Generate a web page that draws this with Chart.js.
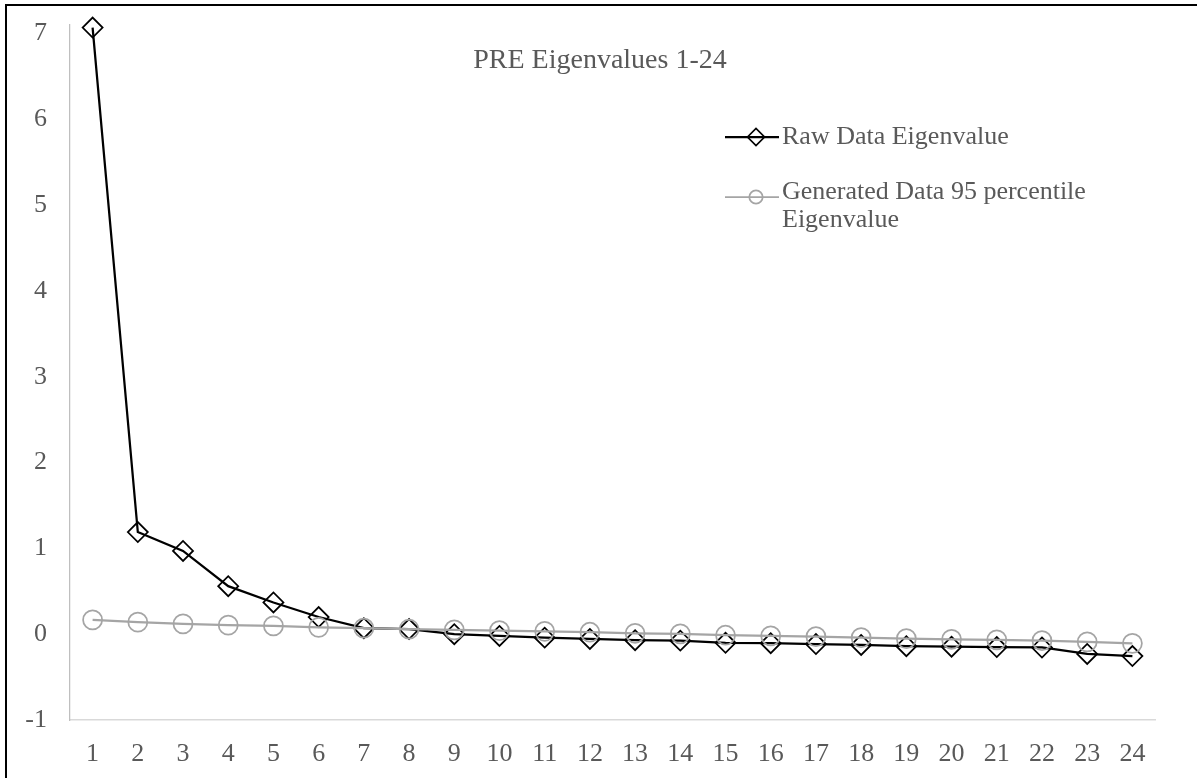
<!DOCTYPE html>
<html>
<head>
<meta charset="utf-8">
<script src="https://cdn.jsdelivr.net/npm/chart.js@4.4.1/dist/chart.umd.min.js"></script>
<style>
    html, body { margin: 0; padding: 0; background: #fff; overflow: hidden; }
    #wrap { position: relative; width: 1197px; height: 778px; }
    #frame {
        position: absolute; left: 5px; top: 4px; width: 1300px; height: 900px;
        border: 2px solid #000; pointer-events: none;
    }
</style>
</head>
<body>
<div id="wrap">
    <canvas id="chart" width="1197" height="778"></canvas>
    <div id="frame"></div>
</div>
<script>
const categories = ['1', '2', '3', '4', '5', '6', '7', '8', '9', '10', '11', '12',
    '13', '14', '15', '16', '17', '18', '19', '20', '21', '22', '23', '24'];

const rawEigen = [7.07, 1.19, 0.97, 0.56, 0.37, 0.20, 0.07, 0.06, 0.00, -0.02, -0.04, -0.055,
    -0.07, -0.075, -0.10, -0.105, -0.115, -0.125, -0.14, -0.145, -0.15, -0.155, -0.23, -0.255];

const generatedEigen = [0.166, 0.14, 0.12, 0.105, 0.096, 0.08, 0.07, 0.058, 0.05, 0.041, 0.034, 0.023,
    0.011, 0.003, -0.012, -0.02, -0.029, -0.04, -0.052, -0.059, -0.067, -0.075, -0.09, -0.106];

const yTicks = [-1, 0, 1, 2, 3, 4, 5, 6, 7];

const chartTitle = 'PRE Eigenvalues 1-24';
const legendLabels = [['Raw Data Eigenvalue'], ['Generated Data 95 percentile', 'Eigenvalue']];

const serif = '"Liberation Serif", "Times New Roman", serif';
const textGray = '#595959';

// titulo e legenda desenhados dentro da area do grafico (estilo Excel)
const overlayPlugin = {
    id: 'overlay',
    afterDraw(chart) {
        const ctx = chart.ctx;
        ctx.save();
        ctx.fillStyle = textGray;
        ctx.font = '28px ' + serif;
        ctx.textAlign = 'center';
        ctx.textBaseline = 'alphabetic';
        ctx.fillText(chartTitle, 600, 68);

        const rows = [
            { y: 137, ds: chart.data.datasets[1], radius: 8.5, width: 2.25 },
            { y: 197, ds: chart.data.datasets[0], radius: 6.7, width: 1.75 }
        ];
        rows.forEach((row, i) => {
            ctx.strokeStyle = row.ds.borderColor;
            ctx.lineWidth = row.width;
            ctx.beginPath();
            ctx.moveTo(725, row.y);
            ctx.lineTo(779, row.y);
            ctx.stroke();
            ctx.lineWidth = 1.75;
            ctx.fillStyle = 'rgba(0,0,0,0)';
            Chart.helpers.drawPoint(ctx, {
                pointStyle: row.ds.pointStyle,
                radius: row.radius,
                rotation: 0,
                borderWidth: 1.75
            }, 756, row.y);
            ctx.fillStyle = textGray;
            ctx.font = '26px ' + serif;
            ctx.textAlign = 'left';
            ctx.textBaseline = 'middle';
            legendLabels[i].forEach((line, j) => {
                ctx.fillText(line, 782, row.y - (i === 1 ? 5 : 0) + j * 28);
            });
        });
        ctx.restore();
    }
};

const ctx = document.getElementById('chart').getContext('2d');

new Chart(ctx, {
    type: 'line',
    data: {
        labels: categories,
        datasets: [
            {
                label: 'Generated Data 95 percentile Eigenvalue',
                data: generatedEigen,
                borderColor: '#A5A5A5',
                borderWidth: 2.25,
                pointStyle: 'circle',
                pointRadius: 9.5,
                pointBorderWidth: 1.75,
                pointBackgroundColor: 'rgba(0,0,0,0)',
                pointBorderColor: '#A5A5A5',
                tension: 0,
                clip: false,
                order: 1
            },
            {
                label: 'Raw Data Eigenvalue',
                data: rawEigen,
                borderColor: '#000000',
                borderWidth: 2.25,
                pointStyle: 'rectRot',
                pointRadius: 10,
                pointBorderWidth: 1.75,
                pointBackgroundColor: 'rgba(0,0,0,0)',
                pointBorderColor: '#000000',
                tension: 0,
                clip: false,
                order: 2
            }
        ]
    },
    options: {
        responsive: false,
        animation: false,
        layout: {
            padding: { left: 0, right: 42, top: 25, bottom: 0 }
        },
        plugins: {
            legend: { display: false },
            title: { display: false },
            tooltip: { enabled: false }
        },
        scales: {
            x: {
                type: 'category',
                offset: true,
                grid: { display: false, drawTicks: false },
                border: { display: true, color: '#D9D9D9', width: 1.5 },
                ticks: {
                    color: textGray,
                    font: { family: serif, size: 26 },
                    padding: 19,
                    maxRotation: 0,
                    autoSkip: false
                },
                afterFit: function (scale) {
                    scale.height = 58;
                }
            },
            y: {
                min: -1,
                max: 7.1,
                grid: { display: false, drawTicks: false },
                border: { display: true, color: '#BFBFBF', width: 1.25 },
                ticks: {
                    stepSize: 1,
                    color: textGray,
                    font: { family: serif, size: 26 },
                    padding: 23
                },
                afterBuildTicks: function (scale) {
                    scale.ticks = yTicks.map(v => ({ value: v }));
                },
                afterFit: function (scale) {
                    scale.width = 70;
                    scale.paddingTop = 0;
                    scale.paddingBottom = 0;
                }
            }
        }
    },
    plugins: [overlayPlugin]
});
</script>
</body>
</html>
